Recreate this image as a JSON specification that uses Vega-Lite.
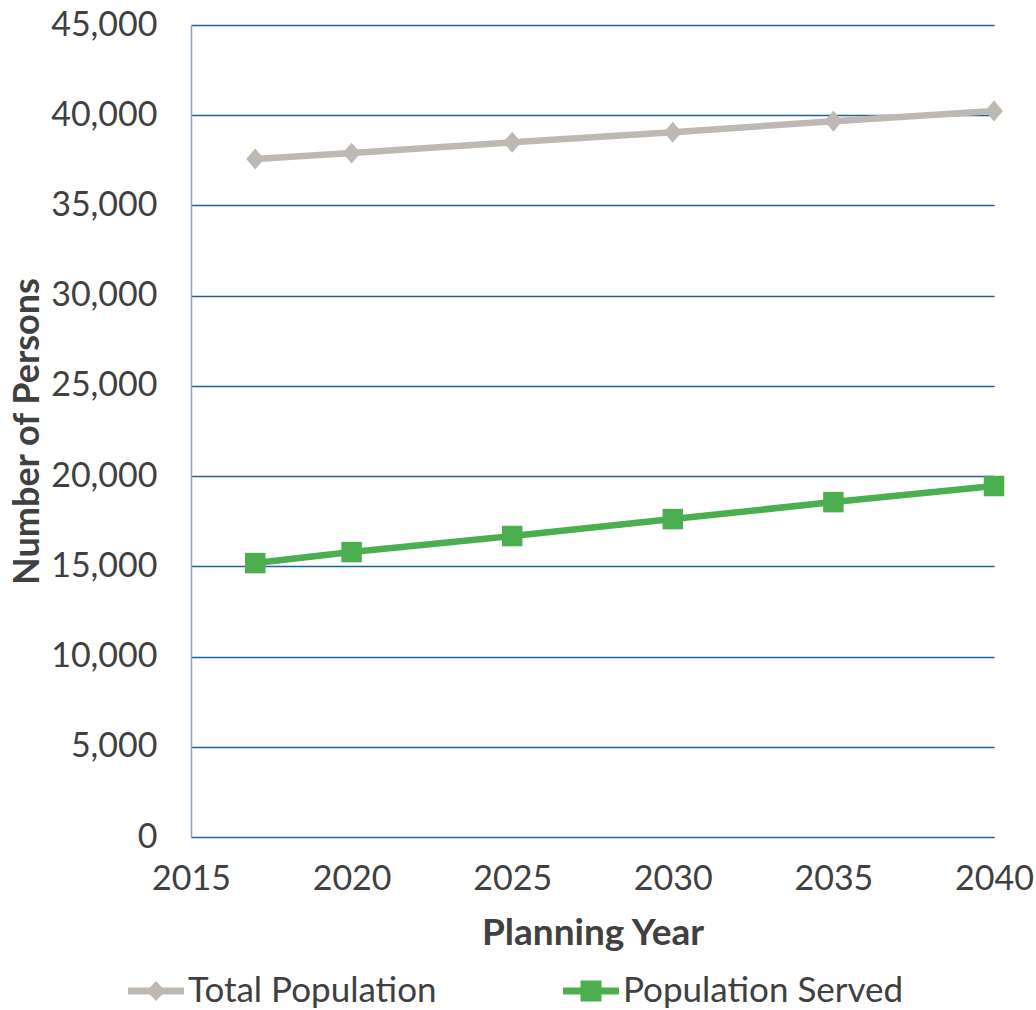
{
  "$schema": "https://vega.github.io/schema/vega-lite/v6.json",
  "width": 803,
  "height": 812,
  "autosize": "none",
  "padding": {"left": 191, "top": 25, "right": 42, "bottom": 173},
  "background": "white",
  "config": {"font": "Lato", "view": {"stroke": null}},
  "data": {
    "values": [
      {"year": 2017, "series": "Total Population", "value": 37570},
      {"year": 2020, "series": "Total Population", "value": 37900},
      {"year": 2025, "series": "Total Population", "value": 38500},
      {"year": 2030, "series": "Total Population", "value": 39060},
      {"year": 2035, "series": "Total Population", "value": 39670},
      {"year": 2040, "series": "Total Population", "value": 40230},
      {"year": 2017, "series": "Population Served", "value": 15180},
      {"year": 2020, "series": "Population Served", "value": 15790},
      {"year": 2025, "series": "Population Served", "value": 16680},
      {"year": 2030, "series": "Population Served", "value": 17620},
      {"year": 2035, "series": "Population Served", "value": 18560},
      {"year": 2040, "series": "Population Served", "value": 19450}
    ]
  },
  "encoding": {
    "x": {
      "field": "year", "type": "quantitative",
      "scale": {"domain": [2015, 2040], "nice": false, "zero": false},
      "axis": {
        "values": [2015, 2020, 2025, 2030, 2035, 2040], "format": "d",
        "title": "Planning Year", "grid": false, "ticks": false,
        "domainColor": "#2F5E9C", "domainWidth": 1.2,
        "labelFont": "Lato", "labelFontSize": 34, "labelColor": "#404040", "labelPadding": 25,
        "labelFlush": false,
        "titleFont": "Lato", "titleFontSize": 37, "titleFontWeight": "bold", "titleColor": "#404040", "titlePadding": 19
      }
    },
    "y": {
      "field": "value", "type": "quantitative",
      "scale": {"domain": [0, 45000], "nice": false},
      "axis": {
        "values": [0, 5000, 10000, 15000, 20000, 25000, 30000, 35000, 40000, 45000], "format": ",d",
        "title": "Number of Persons", "grid": true, "gridColor": "#1F5FA6", "gridWidth": 1.5,
        "ticks": false, "domainColor": "#8FA1C7", "domainWidth": 1.5,
        "labelFont": "Lato", "labelFontSize": 34, "labelColor": "#404040", "labelPadding": 34,
        "titleFont": "Lato", "titleFontSize": 36, "titleFontWeight": "bold", "titleColor": "#404040", "titlePadding": 4
      }
    },
    "color": {
      "field": "series", "type": "nominal",
      "scale": {"domain": ["Total Population", "Population Served"], "range": ["#BDB9B2", "#4BAE4F"]},
      "legend": {
        "title": null, "orient": "none", "legendX": -63, "legendY": 938, "direction": "horizontal", "columns": 2,
        "padding": 0, "columnPadding": 126, "symbolSize": 3136, "labelOffset": 4,
        "labelFont": "Lato", "labelFontSize": 35, "labelColor": "#404040", "labelLimit": 400,
        "symbolStrokeWidth": 0,
        "encoding": {
          "symbols": {
            "shape": {"value": {"expr": "datum.value === 'Total Population' ? 'M-1,-0.125H1V0.125H-1Z M0,-0.36L0.34,0L0,0.36L-0.34,0Z' : 'M-1,-0.125H1V0.125H-1Z M-0.375,-0.375H0.375V0.375H-0.375Z'"}},
            "fill": {"value": {"expr": "datum.value === 'Total Population' ? '#BDB9B2' : '#4BAE4F'"}},
            "stroke": {"value": "transparent"},
            "opacity": {"value": 1},
            "fillOpacity": {"value": 1}
          }
        }
      }
    }
  },
  "layer": [
    {"mark": {"type": "line", "strokeWidth": 6.5}},
    {
      "transform": [{"filter": "datum.series === 'Total Population'"}],
      "mark": {"type": "point", "filled": true, "opacity": 1, "size": 440, "shape": "M0,-1L0.86,0L0,1L-0.86,0Z"}
    },
    {
      "transform": [{"filter": "datum.series === 'Population Served'"}],
      "mark": {"type": "point", "filled": true, "opacity": 1, "size": 420, "shape": "square"}
    }
  ]
}
